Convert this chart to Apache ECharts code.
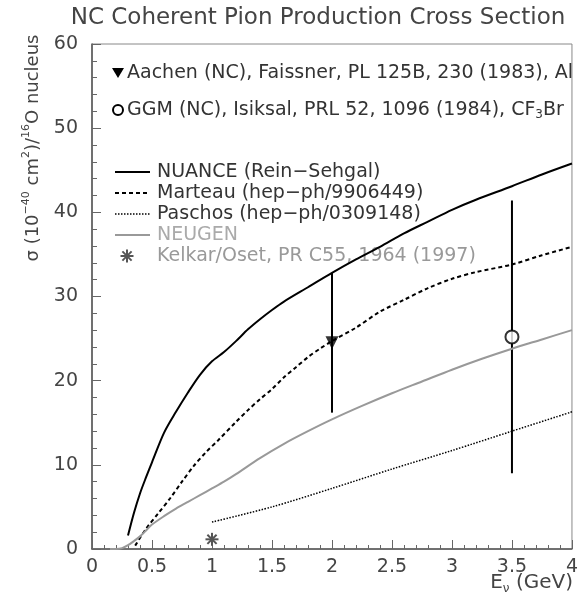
<!DOCTYPE html>
<html>
<head>
<meta charset="utf-8">
<script src="https://cdn.jsdelivr.net/npm/echarts@6/dist/echarts.min.js"></script>
<style>
html, body { margin: 0; padding: 0; background: #fff; }
#chart { width: 581px; height: 595px; }
</style>
</head>
<body>
<div id="chart"></div>
<script>
// axis ticks
const xTicks = [0, 0.5, 1, 1.5, 2, 2.5, 3, 3.5, 4]
const yTicks = [0, 10, 20, 30, 40, 50, 60]

// NUANCE (Rein-Sehgal)
const nuanceE = [0.3, 0.35, 0.4, 0.45, 0.5, 0.6, 0.7, 0.8, 0.9, 1.0, 1.1, 1.2, 1.3, 1.4, 1.5, 1.6, 1.8, 2.0, 2.2, 2.4, 2.6, 2.8, 3.0, 3.2, 3.5, 3.75, 4.0]
const nuanceXsec = [1.6, 4.3, 6.6, 8.5, 10.3, 13.8, 16.3, 18.6, 20.7, 22.3, 23.4, 24.7, 26.1, 27.3, 28.4, 29.4, 31.1, 32.8, 34.4, 35.9, 37.5, 38.9, 40.3, 41.5, 43.1, 44.5, 45.8]

// Marteau (hep-ph/9906449)
const marteauE = [0.36, 0.45, 0.55, 0.65, 0.75, 0.85, 0.95, 1.05, 1.2, 1.3, 1.4, 1.5, 1.6, 1.7, 1.8, 1.9, 2.0, 2.2, 2.4, 2.6, 2.8, 3.0, 3.2, 3.5, 3.75, 4.0]
const marteauXsec = [0.4, 2.4, 4.2, 6.0, 8.0, 9.9, 11.5, 12.9, 15.1, 16.5, 17.8, 19.0, 20.4, 21.6, 22.8, 23.8, 24.7, 26.3, 28.2, 29.6, 31.0, 32.1, 32.9, 33.8, 34.9, 35.9]

// Paschos (hep-ph/0309148)
const paschosE = [1.0, 1.5, 2.0, 2.5, 3.0, 3.5, 4.0]
const paschosXsec = [3.2, 5.0, 7.2, 9.5, 11.7, 14.0, 16.3]

// NEUGEN
const neugenE = [0.15, 0.2, 0.25, 0.3, 0.35, 0.4, 0.45, 0.5, 0.6, 0.7, 0.8, 0.9, 1.0, 1.1, 1.2, 1.4, 1.6, 1.8, 2.0, 2.25, 2.5, 2.75, 3.0, 3.25, 3.5, 3.75, 4.0]
const neugenXsec = [0, 0, 0.1, 0.45, 0.95, 1.5, 2.2, 2.9, 3.9, 4.8, 5.6, 6.4, 7.2, 8.0, 8.9, 10.8, 12.5, 14.0, 15.4, 17.0, 18.5, 19.9, 21.3, 22.6, 23.8, 24.9, 26.0]

// data points
const aachenE = [2.0]
const aachenXsec = [24.5]
const aachenErr = [8.3]
const ggmE = [3.5]
const ggmXsec = [25.2]
const ggmErr = [16.2]
const kelkarE = [1.0]
const kelkarXsec = [1.15]

const FONT = 'DejaVu Sans'
const zip = (a, b) => a.map((v, i) => [v, b[i]])
const zip3 = (a, b, c) => a.map((v, i) => [v, b[i], c[i]])

function starLines(cx, cy, r, color) {
  const out = []
  for (let k = 0; k < 4; k++) {
    const a = k * Math.PI / 4
    out.push({
      type: 'line',
      shape: { x1: cx - r * Math.cos(a), y1: cy - r * Math.sin(a), x2: cx + r * Math.cos(a), y2: cy + r * Math.sin(a) },
      style: { stroke: color, lineWidth: 2 }
    })
  }
  return out
}

function errorBar(params, api) {
  const x = api.value(0), y = api.value(1), e = api.value(2)
  const top = api.coord([x, y + e])
  const bot = api.coord([x, y - e])
  return {
    type: 'line',
    shape: { x1: top[0], y1: top[1], x2: bot[0], y2: bot[1] },
    style: { stroke: '#000', lineWidth: 2 }
  }
}

function star(params, api) {
  const p = api.coord([api.value(0), api.value(1)])
  return { type: 'group', children: starLines(p[0], p[1], 6.5, '#555') }
}

const chart = echarts.init(document.getElementById('chart'))

const legendTxt = { fontFamily: FONT, fontSize: 19, fill: '#333' }
const lx1 = 115, lx2 = 150, ltx = 157
const rows = [172, 193, 214, 235, 256]

const option = {
  animation: false,
  backgroundColor: '#fff',
  grid: { left: 92, right: 8, top: 44, bottom: 46, show: true, borderColor: '#888', borderWidth: 1 },
  xAxis: {
    type: 'value', min: xTicks[0], max: xTicks[xTicks.length - 1], interval: 0.5,
    axisLine: { show: true, onZero: false, lineStyle: { color: '#555', width: 1.5 } },
    axisTick: { show: true, inside: true, length: 9, lineStyle: { color: '#666' } },
    minorTick: { show: true, splitNumber: 5, length: 4, lineStyle: { color: '#666' } },
    splitLine: { show: false },
    axisLabel: { fontFamily: FONT, fontSize: 19, color: '#444', margin: 9, formatter: v => String(v) }
  },
  yAxis: {
    type: 'value', min: yTicks[0], max: yTicks[yTicks.length - 1], interval: 10,
    axisLine: { show: true, onZero: false, lineStyle: { color: '#555', width: 1.5 } },
    axisTick: { show: true, inside: true, length: 9, lineStyle: { color: '#666' } },
    minorTick: { show: true, splitNumber: 5, length: 5, lineStyle: { color: '#666' } },
    splitLine: { show: false },
    axisLabel: { fontFamily: FONT, fontSize: 19, color: '#444', margin: 14 }
  },
  series: [
    { name: 'NUANCE (Rein-Sehgal)', type: 'line', data: zip(nuanceE, nuanceXsec), showSymbol: false, smooth: 0.3,
      lineStyle: { color: '#000', width: 2 } },
    { name: 'Marteau (hep-ph/9906449)', type: 'line', data: zip(marteauE, marteauXsec), showSymbol: false, smooth: 0.3,
      lineStyle: { color: '#000', width: 2, type: [4, 3] } },
    { name: 'Paschos (hep-ph/0309148)', type: 'line', data: zip(paschosE, paschosXsec), showSymbol: false, smooth: 0.3,
      lineStyle: { color: '#000', width: 1.5, type: [1.5, 1.5] } },
    { name: 'NEUGEN', type: 'line', data: zip(neugenE, neugenXsec), showSymbol: false, smooth: 0.3,
      lineStyle: { color: '#999', width: 2 } },
    { name: 'Aachen err', type: 'custom', renderItem: errorBar, data: zip3(aachenE, aachenXsec, aachenErr), z: 3 },
    { name: 'GGM err', type: 'custom', renderItem: errorBar, data: zip3(ggmE, ggmXsec, ggmErr), z: 3 },
    { name: 'Aachen', type: 'scatter', data: zip(aachenE, aachenXsec), symbol: 'triangle', symbolRotate: 180, symbolSize: 13,
      itemStyle: { color: '#000' }, z: 5 },
    { name: 'GGM', type: 'scatter', data: zip(ggmE, ggmXsec), symbol: 'circle', symbolSize: 13,
      itemStyle: { color: '#fff', borderColor: '#000', borderWidth: 2 }, z: 5 },
    { name: 'Kelkar/Oset', type: 'custom', renderItem: star, data: zip(kelkarE, kelkarXsec), z: 5 }
  ],
  graphic: [
    { type: 'text', x: 318, y: 18, style: { text: 'NC Coherent Pion Production Cross Section', fontFamily: FONT, fontSize: 23, fill: '#444', align: 'center', verticalAlign: 'middle' } },
    { type: 'text', x: 33, y: 148, rotation: Math.PI / 2, style: {
        text: '{t|σ (10}{u|−40}{t| cm}{u|2}{t|)/}{u|16}{t|O nucleus}', align: 'center', verticalAlign: 'middle',
        rich: { t: { fontFamily: FONT, fontSize: 18, fill: '#444', lineHeight: 24 }, u: { fontFamily: FONT, fontSize: 11, fill: '#444', lineHeight: 12, verticalAlign: 'top' } } } },
    { type: 'text', x: 573, y: 583, style: {
        text: '{t|E}{s|ν}{t| (GeV)}', align: 'right', verticalAlign: 'middle',
        rich: { t: { fontFamily: FONT, fontSize: 20, fill: '#444', lineHeight: 24 }, s: { fontFamily: FONT, fontSize: 12, fill: '#444', lineHeight: 13, verticalAlign: 'bottom' } } } },
    // data-point legend
    { type: 'polygon', shape: { points: [[112, 68], [124, 68], [118, 78]] }, style: { fill: '#000' } },
    { type: 'text', x: 127, y: 73, style: Object.assign({ text: 'Aachen (NC), Faissner, PL 125B, 230 (1983), Al', verticalAlign: 'middle' }, legendTxt) },
    { type: 'circle', shape: { cx: 118, cy: 110, r: 5 }, style: { fill: '#fff', stroke: '#000', lineWidth: 2 } },
    { type: 'text', x: 127, y: 110, style: {
        text: '{t|GGM (NC), Isiksal, PRL 52, 1096 (1984), CF}{s|3}{t|Br}', verticalAlign: 'middle',
        rich: { t: { fontFamily: FONT, fontSize: 19, fill: '#333', lineHeight: 22 }, s: { fontFamily: FONT, fontSize: 12, fill: '#333', lineHeight: 12, verticalAlign: 'bottom' } } } },
    // curve legend
    { type: 'line', shape: { x1: lx1, y1: rows[0], x2: lx2, y2: rows[0] }, style: { stroke: '#000', lineWidth: 2 } },
    { type: 'text', x: ltx, y: rows[0], style: Object.assign({ text: 'NUANCE (Rein−Sehgal)', verticalAlign: 'middle' }, legendTxt) },
    { type: 'line', shape: { x1: lx1, y1: rows[1], x2: lx2, y2: rows[1] }, style: { stroke: '#000', lineWidth: 2, lineDash: [4, 3] } },
    { type: 'text', x: ltx, y: rows[1], style: Object.assign({ text: 'Marteau (hep−ph/9906449)', verticalAlign: 'middle' }, legendTxt) },
    { type: 'line', shape: { x1: lx1, y1: rows[2], x2: lx2, y2: rows[2] }, style: { stroke: '#000', lineWidth: 1.5, lineDash: [1.5, 1.5] } },
    { type: 'text', x: ltx, y: rows[2], style: Object.assign({ text: 'Paschos (hep−ph/0309148)', verticalAlign: 'middle' }, legendTxt) },
    { type: 'line', shape: { x1: lx1, y1: rows[3], x2: lx2, y2: rows[3] }, style: { stroke: '#999', lineWidth: 2 } },
    { type: 'text', x: ltx, y: rows[3], style: Object.assign({}, legendTxt, { text: 'NEUGEN', verticalAlign: 'middle', fill: '#aaa' }) },
    { type: 'group', children: starLines(127, rows[4], 6.5, '#555') },
    { type: 'text', x: ltx, y: rows[4], style: Object.assign({}, legendTxt, { text: 'Kelkar/Oset, PR C55, 1964 (1997)', verticalAlign: 'middle', fill: '#999' }) }
  ]
}
chart.setOption(option)
</script>
</body>
</html>
